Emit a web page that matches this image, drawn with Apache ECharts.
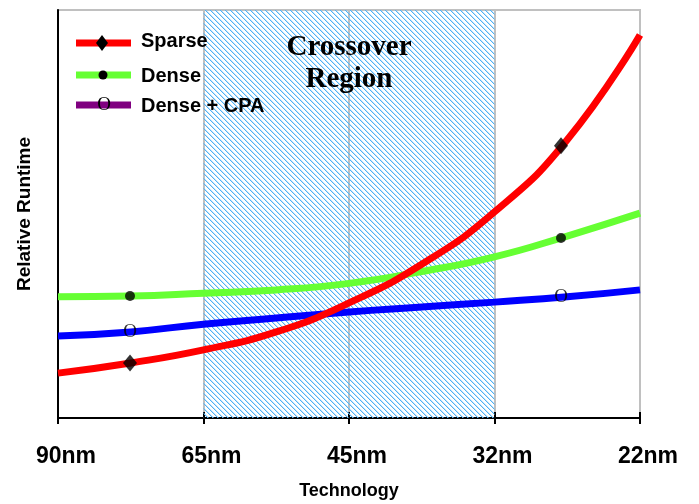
<!DOCTYPE html>
<html>
<head>
<meta charset="utf-8">
<script src="https://cdn.jsdelivr.net/npm/echarts@6/dist/echarts.min.js"></script>
<style>html,body{margin:0;padding:0;background:#fff;}#c{width:699px;height:504px;}</style>
</head>
<body>
<div id="c"></div>
<script>
// ---- data ----
var techLabels = ['90nm', '65nm', '45nm', '32nm', '22nm'];
var seriesNames = ['Sparse', 'Dense', 'Dense + CPA'];

// sample positions along the technology axis (0 = 90nm ... 4 = 22nm)
var sampleX = [0, 0.5, 1.0, 1.5, 2.0, 2.5, 3.0, 3.5, 4.0];
var sparseY = [11.0, 13.5, 16.7, 21.1, 28.2, 37.7, 50.5, 68.2, 93.9];
var denseY  = [29.7, 29.9, 30.6, 31.4, 33.0, 35.9, 39.5, 44.6, 50.2];
var cpaY    = [20.1, 21.1, 23.0, 24.5, 26.0, 27.2, 28.4, 29.7, 31.4];

var markerX = [0.495, 3.457];
var sparseMarkY = [13.5, 66.7];
var denseMarkY = [29.9, 44.1];
var cpaMarkY = [21.1, 29.7];

var crossoverStart = 1; // 65nm
var crossoverEnd = 3;   // 32nm
var crossoverText = 'Crossover\nRegion';

function pairs(xs, ys) { return xs.map(function (x, i) { return [x, ys[i]]; }); }

// hatch pattern
var pat = document.createElement('canvas');
pat.width = 5; pat.height = 5;
var pc = pat.getContext('2d');
pc.fillStyle = '#52b0f2';
for (var i = 0; i < 5; i++) { pc.fillRect(i, i, 1, 1); }
pc.fillStyle = 'rgba(120,200,255,0.45)';
for (var j = 0; j < 5; j++) { pc.fillRect((j + 1) % 5, j, 1, 1); }

var FONT = 'Liberation Sans, Arial, sans-serif';
var chart = echarts.init(document.getElementById('c'), null, { renderer: 'canvas' });

var legendRows = [
  { y: 43, color: '#ff0000', text: seriesNames[0], ty: 41, mark: 'diamond' },
  { y: 75, color: '#66ff33', text: seriesNames[1], ty: 76, mark: 'dot' },
  { y: 105, color: '#800080', text: seriesNames[2], ty: 106, mark: 'o' }
];
var graphics = [];
legendRows.forEach(function (r) {
  graphics.push({ type: 'line', shape: { x1: 76, y1: r.y, x2: 131, y2: r.y }, style: { stroke: r.color, lineWidth: 7 }, z: 10 });
  if (r.mark === 'diamond') {
    graphics.push({ type: 'polygon', shape: { points: [[102, r.y - 8], [108, r.y], [102, r.y + 8], [96, r.y]] }, style: { fill: '#000' }, z: 11 });
  } else if (r.mark === 'dot') {
    graphics.push({ type: 'circle', shape: { cx: 103, cy: r.y, r: 4.5 }, style: { fill: '#000' }, z: 11 });
  } else {
    graphics.push({ type: 'text', x: 104, y: r.y, style: { text: 'O', font: '19px "Liberation Serif", serif', fill: '#000', align: 'center', verticalAlign: 'middle' }, z: 11 });
  }
  graphics.push({ type: 'text', x: 141, y: r.ty, style: { text: r.text, font: 'bold 20px ' + FONT, fill: '#000', verticalAlign: 'middle' }, z: 11 });
});

var option = {
  backgroundColor: '#ffffff',
  animation: false,
  grid: { left: 58, right: 59, top: 10, bottom: 86, show: true, borderColor: '#c0c0c0', borderWidth: 2, outerBoundsMode: 'none' },
  xAxis: [{
    type: 'value', min: 0, max: 4, interval: 1,
    name: 'Technology', nameLocation: 'middle', nameGap: 64,
    nameTextStyle: { fontFamily: FONT, fontWeight: 'bold', fontSize: 18, color: '#000' },
    axisLine: { show: true, lineStyle: { color: '#000', width: 2 } },
    axisTick: { show: true, length: 6, lineStyle: { color: '#000', width: 2 } },
    axisLabel: {
      margin: 27, fontFamily: FONT, fontWeight: 'bold', fontSize: 23, color: '#000',
      padding: [0, 0, 0, 16],
      formatter: function (v) { return techLabels[Math.round(v)] || ''; }
    },
    splitLine: { show: true, lineStyle: { color: '#c0c0c0', width: 2 } }
  }, {
    type: 'value', min: 0, max: 4, interval: 1, position: 'bottom', offset: 0,
    axisLine: { show: false },
    axisTick: { show: true, inside: true, length: 6, lineStyle: { color: '#000', width: 2 } },
    axisLabel: { show: false }, splitLine: { show: false }
  }],
  yAxis: {
    type: 'value', min: 0, max: 100,
    name: 'Relative Runtime', nameLocation: 'middle', nameGap: 24, nameRotate: 90,
    nameTextStyle: { fontFamily: FONT, fontWeight: 'bold', fontSize: 19, color: '#000' },
    axisLine: { show: true, lineStyle: { color: '#000', width: 2 } },
    axisTick: { show: false }, axisLabel: { show: false }, splitLine: { show: false }
  },
  graphic: graphics,
  series: [
    {
      type: 'line', data: [], z: 1, silent: true,
      markArea: {
        silent: true,
        itemStyle: { color: { image: pat, repeat: 'repeat' } },
        label: {
          show: true, position: 'insideTop', distance: 22, formatter: crossoverText,
          fontFamily: 'Liberation Serif, Times New Roman, serif', fontWeight: 'bold', fontSize: 29,
          lineHeight: 32, color: '#000'
        },
        data: [[{ xAxis: crossoverStart }, { xAxis: crossoverEnd }]]
      }
    },
    { name: seriesNames[2], type: 'line', data: pairs(sampleX, cpaY), smooth: 0.5, showSymbol: false, z: 3, lineStyle: { color: '#0000ff', width: 7 } },
    { name: seriesNames[1], type: 'line', data: pairs(sampleX, denseY), smooth: 0.5, showSymbol: false, z: 4, lineStyle: { color: '#66ff33', width: 7 } },
    { name: seriesNames[0], type: 'line', data: pairs(sampleX, sparseY), smooth: 0.5, showSymbol: false, z: 5, lineStyle: { color: '#ff0000', width: 7 } },
    { type: 'scatter', data: pairs(markerX, sparseMarkY), symbol: 'diamond', symbolSize: [14, 17], itemStyle: { color: '#000' }, z: 6 },
    { type: 'scatter', data: pairs(markerX, denseMarkY), symbol: 'circle', symbolSize: 10, itemStyle: { color: '#000' }, z: 6 },
    {
      type: 'scatter', data: pairs(markerX, cpaMarkY), symbol: 'circle', symbolSize: 1,
      itemStyle: { color: 'rgba(0,0,0,0)' }, z: 6,
      label: { show: true, position: 'inside', formatter: 'O', fontFamily: 'Liberation Serif, serif', fontSize: 19, color: '#000' }
    }
  ]
};
chart.setOption(option);
</script>
</body>
</html>
